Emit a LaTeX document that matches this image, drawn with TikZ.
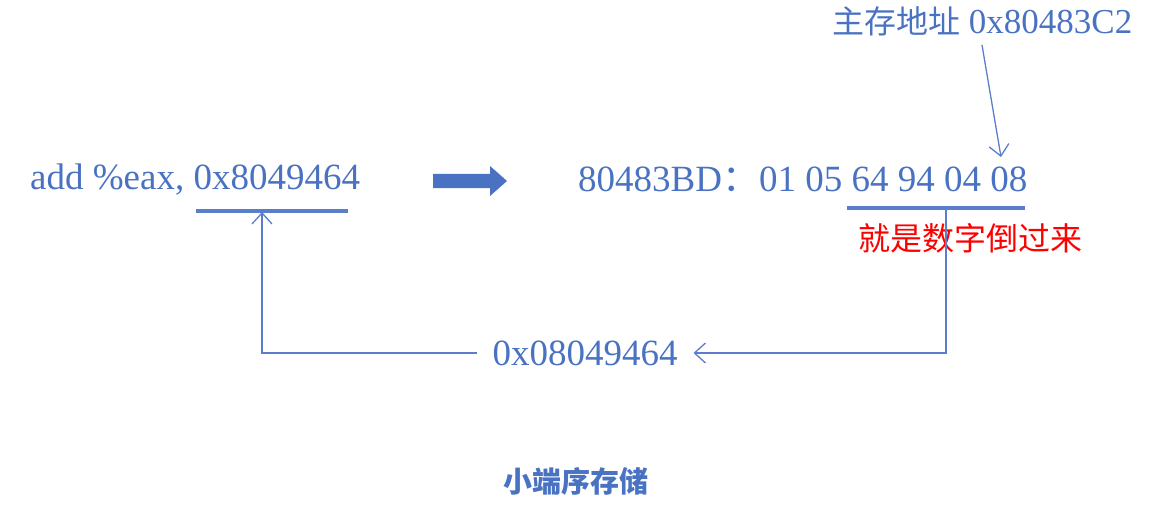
\documentclass[tikz,border=0pt]{standalone}
\usepackage{fontspec}
\setmainfont{Liberation Serif}
\newfontfamily\cjk{Noto Sans CJK SC}
\usetikzlibrary{arrows.meta}
\definecolor{txtblue}{HTML}{4A72C2}
\definecolor{lineblue}{HTML}{5A7ECB}
\begin{document}
\begin{tikzpicture}[x=1pt,y=-1pt,
    lbl/.style={inner sep=0pt,text=txtblue,font=\fontsize{37}{40}\selectfont},
    uline/.style={draw=lineblue,line width=3.5pt},
    link/.style={draw=lineblue,line width=1.3pt,
      -{Straight Barb[length=11pt,width=20pt,line width=1.3pt]}}]
   \useasboundingbox (0,0) rectangle (1174,505);
   % instruction and its bytes
   \node[lbl,anchor=west] (instr) at (30,180) {add \%eax, 0x8049464};
   \node[lbl,anchor=west] (bytes) at (578,179) {80483BD{\cjk ：}01 05 64 94 04 08};
   \node[lbl,anchor=west,font=\fontsize{35}{38}\selectfont] (memaddr) at (832,21)
     {{\cjk\fontsize{32}{36}\selectfont 主存地址} 0x80483C2};
   \node[inner sep=0pt,anchor=west,text=red,font=\cjk\fontsize{32}{34}\selectfont]
     (reverse) at (858,238) {就是数字倒过来};
   \node[lbl,outer xsep=16pt] (addr) at (585,353) {0x08049464};
   \node[inner sep=0pt,text=txtblue,font=\cjk\bfseries\fontsize{29}{32}\selectfont]
     (caption) at (576,481) {小端序存储};
   % big arrow
   \fill[txtblue] (433,174) -- (490,174) -- (490,166) -- (507,181)
     -- (490,196) -- (490,188) -- (433,188) -- cycle;
   % underlines
   \coordinate (ulA) at (196,211); \coordinate (ulB) at (348,211);
   \coordinate (ulC) at (847,208); \coordinate (ulD) at (1025,208);
   \draw[uline] (ulA) -- (ulB);
   \draw[uline] (ulC) -- (ulD);
   \coordinate (upL) at (262,212); \coordinate (dnR) at (946,209);
   \draw[link] (dnR) |- (addr.east);
   \draw[link] (addr.west) -| (upL);
   \coordinate (memtail) at (982,45); \coordinate (memtip) at (1001,157);
   \draw[link] (memtail) -- (memtip);
\end{tikzpicture}
\end{document}
